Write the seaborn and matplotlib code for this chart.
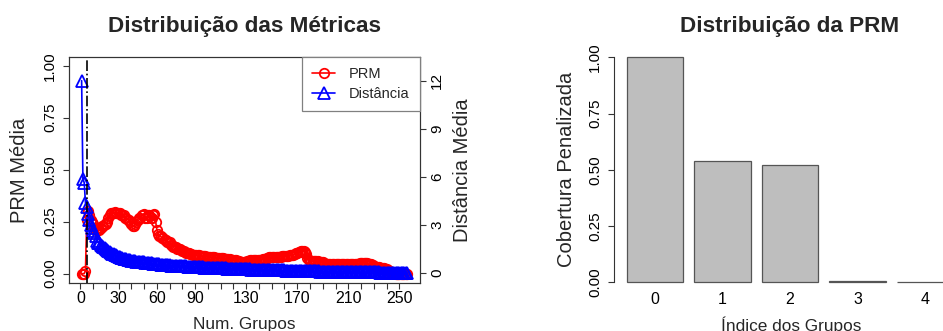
import matplotlib
matplotlib.use("Agg")
import matplotlib.pyplot as plt
import seaborn as sns
import pandas as pd
from matplotlib.lines import Line2D

# ---- data -------------------------------------------------------------
prm_media = [
    0.000, 0.000, 0.000, 0.015, 0.260, 0.300, 0.280, 0.260, 0.250, 0.240,
    0.220, 0.210, 0.210, 0.220, 0.210, 0.220, 0.230, 0.230, 0.240, 0.240,
    0.250, 0.270, 0.280, 0.290, 0.290, 0.290, 0.295, 0.290, 0.290, 0.290,
    0.290, 0.280, 0.280, 0.280, 0.270, 0.270, 0.260, 0.260, 0.250, 0.240,
    0.230, 0.230, 0.240, 0.250, 0.260, 0.270, 0.270, 0.280, 0.280, 0.285,
    0.270, 0.270, 0.280, 0.280, 0.270, 0.270, 0.280, 0.285, 0.250, 0.210,
    0.190, 0.180, 0.180, 0.170, 0.170, 0.160, 0.160, 0.150, 0.150, 0.150,
    0.140, 0.140, 0.130, 0.130, 0.130, 0.120, 0.120, 0.120, 0.115, 0.110,
    0.110, 0.105, 0.100, 0.100, 0.100, 0.095, 0.095, 0.090, 0.090, 0.090,
    0.090, 0.088, 0.088, 0.085, 0.085, 0.085, 0.083, 0.083, 0.082, 0.080,
    0.080, 0.080, 0.078, 0.078, 0.078, 0.076, 0.076, 0.075, 0.075, 0.075,
    0.074, 0.073, 0.072, 0.072, 0.070, 0.070, 0.070, 0.068, 0.068, 0.066,
    0.065, 0.064, 0.062, 0.060, 0.058, 0.056, 0.055, 0.055, 0.056, 0.058,
    0.060, 0.062, 0.064, 0.065, 0.066, 0.066, 0.067, 0.068, 0.068, 0.068,
    0.068, 0.068, 0.069, 0.070, 0.072, 0.074, 0.076, 0.078, 0.080, 0.080,
    0.080, 0.080, 0.078, 0.078, 0.078, 0.080, 0.082, 0.085, 0.085, 0.085,
    0.085, 0.085, 0.086, 0.088, 0.088, 0.090, 0.092, 0.095, 0.098, 0.100,
    0.102, 0.105, 0.108, 0.110, 0.110, 0.105, 0.095, 0.075, 0.065, 0.062,
    0.062, 0.060, 0.060, 0.060, 0.060, 0.060, 0.058, 0.058, 0.056, 0.055,
    0.052, 0.048, 0.046, 0.045, 0.045, 0.045, 0.045, 0.045, 0.044, 0.044,
    0.044, 0.044, 0.044, 0.044, 0.044, 0.044, 0.044, 0.044, 0.044, 0.044,
    0.044, 0.044, 0.044, 0.045, 0.045, 0.045, 0.046, 0.048, 0.050, 0.052,
    0.052, 0.052, 0.052, 0.050, 0.050, 0.048, 0.046, 0.044, 0.040, 0.036,
    0.032, 0.030, 0.030, 0.030, 0.028, 0.028, 0.026, 0.025, 0.022, 0.020,
    0.018, 0.015, 0.010, 0.008, 0.005, 0.002, 0.000, 0.000, 0.000, 0.000,
    0.000, 0.000, 0.000, 0.000, 0.000, 0.000,
]

distancia_media = [
    12.00, 5.85, 5.65, 4.40, 4.10, 3.70, 3.30, 3.00, 2.80, 2.65,
    2.50, 2.30, 2.00, 1.90, 1.85, 1.78, 1.70, 1.62, 1.55, 1.48,
    1.42, 1.37, 1.32, 1.27, 1.22, 1.18, 1.14, 1.10, 1.06, 1.02,
    0.99, 0.96, 0.93, 0.90, 0.88, 0.86, 0.84, 0.82, 0.80, 0.78,
    0.76, 0.75, 0.74, 0.72, 0.71, 0.70, 0.69, 0.68, 0.67, 0.66,
    0.65, 0.64, 0.63, 0.62, 0.61, 0.60, 0.59, 0.58, 0.57, 0.56,
    0.55, 0.54, 0.53, 0.52, 0.52, 0.51, 0.50, 0.49, 0.49, 0.48,
    0.47, 0.47, 0.46, 0.45, 0.45, 0.44, 0.44, 0.43, 0.43, 0.42,
    0.42, 0.41, 0.41, 0.40, 0.40, 0.39, 0.39, 0.38, 0.38, 0.37,
    0.37, 0.36, 0.36, 0.36, 0.35, 0.35, 0.34, 0.34, 0.34, 0.33,
    0.33, 0.33, 0.32, 0.32, 0.32, 0.31, 0.31, 0.31, 0.30, 0.30,
    0.30, 0.29, 0.29, 0.29, 0.28, 0.28, 0.28, 0.27, 0.27, 0.27,
    0.26, 0.26, 0.26, 0.25, 0.25, 0.25, 0.24, 0.24, 0.24, 0.23,
    0.23, 0.23, 0.23, 0.22, 0.22, 0.22, 0.21, 0.21, 0.21, 0.21,
    0.20, 0.20, 0.20, 0.20, 0.19, 0.19, 0.19, 0.19, 0.18, 0.18,
    0.18, 0.18, 0.17, 0.17, 0.17, 0.17, 0.16, 0.16, 0.16, 0.16,
    0.15, 0.15, 0.15, 0.15, 0.14, 0.14, 0.14, 0.14, 0.13, 0.13,
    0.13, 0.13, 0.12, 0.12, 0.12, 0.12, 0.12, 0.11, 0.11, 0.11,
    0.11, 0.11, 0.10, 0.10, 0.10, 0.10, 0.10, 0.09, 0.09, 0.09,
    0.09, 0.09, 0.09, 0.08, 0.08, 0.08, 0.08, 0.08, 0.08, 0.07,
    0.07, 0.07, 0.07, 0.07, 0.07, 0.07, 0.06, 0.06, 0.06, 0.06,
    0.06, 0.06, 0.06, 0.06, 0.05, 0.05, 0.05, 0.05, 0.05, 0.05,
    0.05, 0.05, 0.05, 0.04, 0.04, 0.04, 0.04, 0.04, 0.04, 0.04,
    0.04, 0.04, 0.04, 0.04, 0.03, 0.03, 0.03, 0.03, 0.03, 0.03,
    0.03, 0.03, 0.03, 0.03, 0.03, 0.02, 0.02, 0.02, 0.02, 0.02,
    0.02, 0.02, 0.02, 0.01, 0.01, 0.00,
]

num_grupos = list(range(1, len(prm_media) + 1))
grupo_escolhido = 5

x_ticks = list(range(0, 251, 10))
x_tick_labels = [0, 30, 60, 90, 130, 170, 210, 250]
prm_ticks = [0.00, 0.25, 0.50, 0.75, 1.00]
dist_ticks = [0, 3, 6, 9, 12]

indices = ["0", "1", "2", "3", "4"]
cobertura = [1.00, 0.54, 0.52, 0.004, 0.003]

# ---- style ------------------------------------------------------------
sns.set_style("white")
plt.rcParams["font.family"] = ["Liberation Sans", "DejaVu Sans"]
plt.rcParams["axes.edgecolor"] = "#333333"
plt.rcParams["xtick.color"] = "#333333"
plt.rcParams["ytick.color"] = "#333333"
plt.rcParams["xtick.labelcolor"] = "black"
plt.rcParams["ytick.labelcolor"] = "black"

W, H = 943, 331
fig = plt.figure(figsize=(W / 100, H / 100), dpi=100)


def box(l, r, t, b):
    return [l / W, 1 - b / H, (r - l) / W, (b - t) / H]


df = pd.DataFrame({"grupo": num_grupos, "prm": prm_media,
                   "dist": distancia_media})

circ = dict(marker="o", markersize=6.8, markerfacecolor="none",
            markeredgewidth=1.3, linewidth=1.2)
tri = dict(marker="^", markersize=8, markerfacecolor="none",
           markeredgewidth=1.3, linewidth=1.2)

# ---- left panel: PRM and distance vs number of groups -----------------
ax = fig.add_axes(box(69, 420, 57, 283))
sns.lineplot(data=df, x="grupo", y="prm", ax=ax, color="red",
             markeredgecolor="red", estimator=None, legend=False, **circ)
ax.set_xlim(-8.9, 266.2)
ax.set_ylim(-0.045, 1.042)
ax.set_xticks(x_ticks)
ax.set_xticklabels([str(t) if t in x_tick_labels else "" for t in x_ticks],
                   fontsize=11.5)
ax.set_yticks(prm_ticks)
ax.set_yticklabels([f"{t:.2f}" for t in prm_ticks], rotation=90,
                   va="center", fontsize=11)
ax.tick_params(axis="x", length=4.3, width=0.8, pad=1.5, bottom=True)
ax.tick_params(axis="y", length=4.3, width=0.8, pad=4.3, left=True)
for s in ax.spines.values():
    s.set_linewidth(0.8)

ax.set_xlabel("Num. Grupos", fontsize=12.4)
ax.xaxis.label.set_va("center")
ax.xaxis.set_label_coords(0.5, (283 - 325) / 226)
ax.set_ylabel("PRM Média", fontsize=14.5)
ax.yaxis.label.set_va("center")
ax.yaxis.set_label_coords((20 - 69) / 351, 0.5)
ax.set_title("Distribuição das Métricas", fontsize=16.2,
             fontweight="bold", pad=18)

ax2 = ax.twinx()
sns.lineplot(data=df, x="grupo", y="dist", ax=ax2, color="blue",
             markeredgecolor="blue", estimator=None, legend=False, **tri)
ax2.set_ylim(-0.62, 13.48)
ax2.set_yticks(dist_ticks)
ax2.set_yticklabels([str(t) for t in dist_ticks], rotation=90,
                    va="center", fontsize=11)
ax2.tick_params(axis="y", length=4.3, width=0.8, pad=2.9, right=True)
ax2.set_ylabel("Distância Média", fontsize=14.5)
ax2.yaxis.label.set_va("center")
ax2.yaxis.set_label_coords((462 - 69) / 351, 0.5)
ax2.axvline(grupo_escolhido, color="black", linestyle="-.", linewidth=1.2)
for s in ax2.spines.values():
    s.set_linewidth(0.8)

handles = [Line2D([], [], color="red", **circ),
           Line2D([], [], color="blue", **tri)]
leg = ax2.legend(handles, ["PRM", "Distância"], loc="upper right",
                 fontsize=10.5, frameon=True, fancybox=False, framealpha=1,
                 edgecolor="#808080", borderaxespad=0, handlelength=1.6,
                 handletextpad=0.95, labelspacing=0.38, borderpad=0.7)
leg.get_frame().set_linewidth(0.9)

# ---- right panel: PRM distribution by group index ---------------------
bx = fig.add_axes(box(614, 966, 48.3, 291.3))
sns.barplot(x=indices, y=cobertura, ax=bx, color="#BEBEBE", saturation=1,
            width=1 / 1.2, edgecolor="#555555", linewidth=0.9)
bx.set_xlim(-0.61, 4.61)
bx.set_ylim(-0.04, 1.04)
for name, s in bx.spines.items():
    s.set_visible(name == "left")
bx.spines["left"].set_bounds(0, 1)
bx.spines["left"].set_linewidth(0.8)
bx.set_yticks(prm_ticks)
bx.set_yticklabels([f"{t:.2f}" for t in prm_ticks], rotation=90,
                   va="center", fontsize=11)
bx.tick_params(axis="y", length=4.3, width=0.8, pad=4.3, left=True)
bx.tick_params(axis="x", length=0, pad=0.5, labelsize=11.5)
bx.set_xlabel("Índice dos Grupos", fontsize=12.4)
bx.xaxis.label.set_va("center")
bx.xaxis.set_label_coords((791 - 614) / 352, (291.3 - 325) / 243)
bx.set_ylabel("Cobertura Penalizada", fontsize=14.5)
bx.yaxis.label.set_va("center")
bx.yaxis.set_label_coords((566 - 614) / 352, 0.5)
bx.set_title("Distribuição da PRM", fontsize=16.2, fontweight="bold",
             pad=12, x=(790 - 614) / 352)

fig.savefig("out.png", dpi=100)
